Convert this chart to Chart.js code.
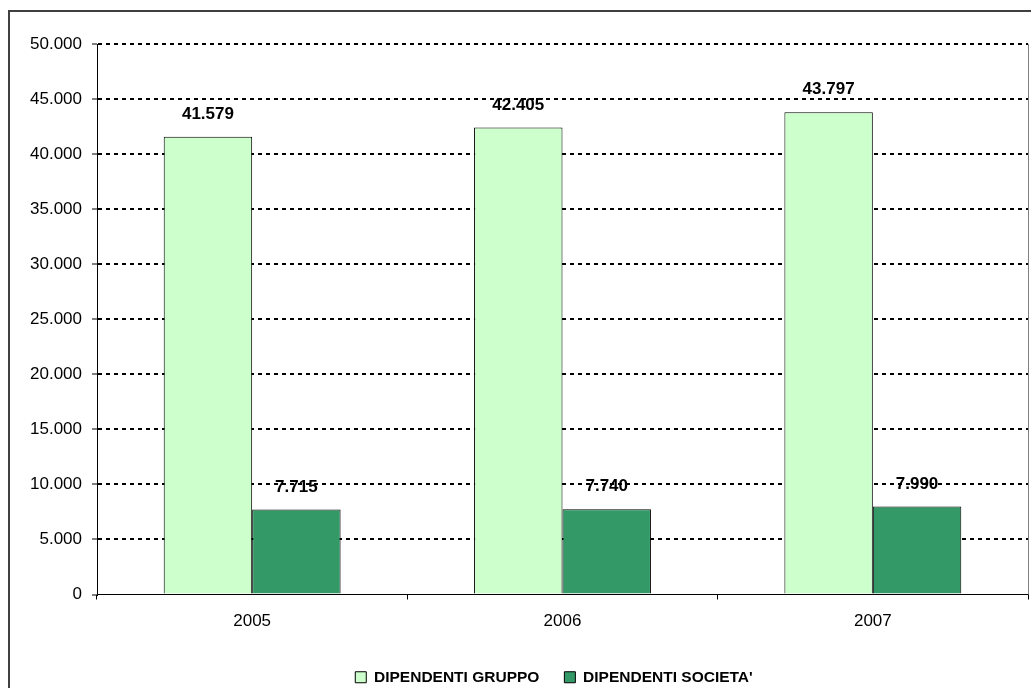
<!DOCTYPE html>
<html>
<head>
<meta charset="utf-8">
<script src="https://cdn.jsdelivr.net/npm/chart.js@4/dist/chart.umd.min.js"></script>
<style>
  html, body { margin: 0; padding: 0; background: #fff; overflow: hidden; }
  #frame { position: absolute; left: 8px; top: 10px; width: 1100px; height: 800px;
           border-left: 2px solid #404040; border-top: 2px solid #404040; }
  #chart { position: absolute; left: 0; top: 0; }
</style>
</head>
<body>
<div id="frame"></div>
<canvas id="chart" width="1031" height="688"></canvas>
<script>
  var anni = ['2005', '2006', '2007'];
  var dipendentiGruppo = [41579, 42405, 43797];
  var dipendentiSocieta = [7715, 7740, 7990];
  var etichette = ['DIPENDENTI GRUPPO', "DIPENDENTI SOCIETA'"];

  // 50000 -> "50.000"
  function formatta(v) {
    return String(v).replace(/\B(?=(\d{3})+(?!\d))/g, '.');
  }

  // valori sopra le colonne
  var valoriPlugin = {
    id: 'valori',
    afterDatasetsDraw: function (chart) {
      var ctx = chart.ctx;
      ctx.save();
      ctx.font = 'bold 17px "Liberation Sans", Arial, sans-serif';
      ctx.fillStyle = '#000';
      ctx.textAlign = 'center';
      ctx.textBaseline = 'alphabetic';
      chart.data.datasets.forEach(function (ds, i) {
        chart.getDatasetMeta(i).data.forEach(function (bar, j) {
          ctx.fillText(formatta(ds.data[j]), bar.x, bar.y - 18);
        });
      });
      ctx.restore();
    }
  };

  // bordo destro grigio dell'area del grafico + legenda spostata a destra
  var bordoPlugin = {
    id: 'bordo',
    afterLayout: function (chart) {
      chart.legend.left += 40;
      chart.legend.right += 40;
    },
    afterDraw: function (chart) {
      var a = chart.chartArea, ctx = chart.ctx;
      ctx.save();
      ctx.strokeStyle = '#808080';
      ctx.lineWidth = 1;
      ctx.beginPath();
      ctx.moveTo(Math.round(a.right) + 0.5, a.top);
      ctx.lineTo(Math.round(a.right) + 0.5, a.bottom);
      ctx.stroke();
      ctx.restore();
    }
  };

  var ctx = document.getElementById('chart').getContext('2d');
  new Chart(ctx, {
    type: 'bar',
    data: {
      labels: anni,
      datasets: [
        { label: etichette[0], data: dipendentiGruppo, backgroundColor: '#CCFFCC', borderColor: '#000', borderWidth: 1 },
        { label: etichette[1], data: dipendentiSocieta, backgroundColor: '#339966', borderColor: '#000', borderWidth: 1 }
      ]
    },
    options: {
      responsive: false,
      devicePixelRatio: 1,
      animation: false,
      layout: { padding: { top: 44, right: 3, left: 0, bottom: -7 } },
      datasets: { bar: { categoryPercentage: 0.57, barPercentage: 1 } },
      scales: {
        x: {
          afterFit: function (s) { s.height = 50; },
          grid: { display: true, drawOnChartArea: false, drawTicks: true, tickLength: 5, tickColor: '#000', tickWidth: 1 },
          border: { color: '#000', width: 1 },
          ticks: { color: '#000', padding: 12, font: { family: '"Liberation Sans", Arial, sans-serif', size: 17 } }
        },
        y: {
          min: 0,
          max: 50000,
          afterFit: function (s) { s.width = 97; },
          grid: {
            color: function (c) { return c.tick && c.tick.value === 0 ? 'rgba(0,0,0,0)' : '#000'; },
            lineWidth: 2,
            tickColor: '#000',
            tickWidth: 1,
            tickLength: 5
          },
          border: { color: '#000', width: 1, dash: [4, 4] },
          ticks: {
            stepSize: 5000,
            color: '#000',
            padding: 10,
            font: { family: '"Liberation Sans", Arial, sans-serif', size: 17 },
            callback: function (v) { return formatta(v); }
          }
        }
      },
      plugins: {
        tooltip: { enabled: false },
        legend: {
          position: 'bottom',
          labels: {
            color: '#000',
            boxWidth: 11,
            boxHeight: 11,
            padding: 25,
            font: { family: '"Liberation Sans", Arial, sans-serif', size: 15.5, weight: 'bold' }
          }
        }
      }
    },
    plugins: [valoriPlugin, bordoPlugin]
  });
</script>
</body>
</html>
